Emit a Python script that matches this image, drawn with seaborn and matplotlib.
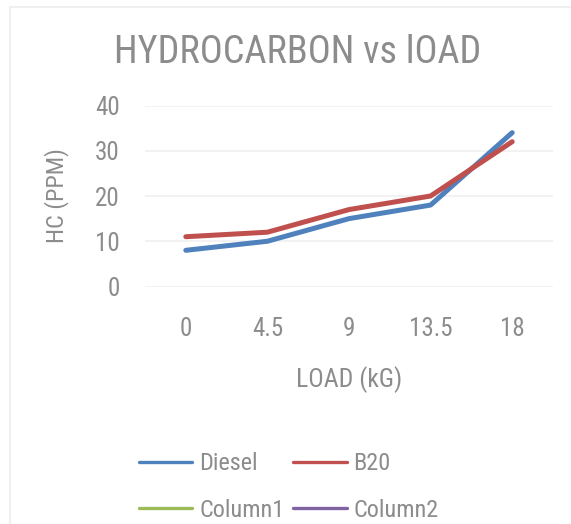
import matplotlib
matplotlib.use("Agg")
import matplotlib.pyplot as plt
from matplotlib import font_manager
from matplotlib.lines import Line2D
from matplotlib.patches import Rectangle
import pandas as pd
import seaborn as sns

# Data
load_labels = ["0", "4.5", "9", "13.5", "18"]
diesel_hc = [8, 10, 15, 18, 34]
b20_hc = [11, 12, 17, 20, 32]
y_ticks = [0, 10, 20, 30, 40]

series_names = ["Diesel", "B20", "Column1", "Column2"]
series_colors = ["#4F81BD", "#C0504D", "#9BBB59", "#8064A2"]
TEXT = "#8C8C8C"

sns.set_theme(style="white")
installed = {f.name for f in font_manager.fontManager.ttflist}
narrow = [n for n in ["Liberation Sans Narrow", "Roboto Condensed", "Arial Narrow",
                      "Open Sans Condensed", "Roboto"] if n in installed]
plt.rcParams["font.family"] = narrow[:1] + ["DejaVu Sans"]

df = pd.DataFrame({
    "LOAD": load_labels * 2,
    "HC": diesel_hc + b20_hc,
    "Fuel": ["Diesel"] * len(load_labels) + ["B20"] * len(load_labels),
})

fig = plt.figure(figsize=(5.71, 5.24), dpi=100)
fig.patch.set_facecolor("white")
# faint chart-area border
fig.patches.append(Rectangle((10 / 571, -0.1), 1.2, 1 - 7 / 524 + 0.1,
                             transform=fig.transFigure, fill=False,
                             edgecolor="#EEEEEE", linewidth=1.2))

ax = fig.add_axes([145 / 571, 1 - 286.5 / 524, 408 / 571, 181 / 524])
sns.lineplot(data=df, x="LOAD", y="HC", hue="Fuel", hue_order=["Diesel", "B20"],
             palette=series_colors[:2], linewidth=3.6, legend=False, ax=ax,
             solid_capstyle="round", sort=False)

ax.set_xlim(-0.5, len(load_labels) - 0.5)
ax.set_ylim(0, 40)
ax.set_yticks(y_ticks)
ax.yaxis.grid(True, color="#F0F0F0", linewidth=1.2)
ax.set_axisbelow(True)
for s in ax.spines.values():
    s.set_visible(False)
ax.tick_params(axis="both", length=0, colors=TEXT, labelsize=18)
ax.tick_params(axis="y", pad=18)
ax.tick_params(axis="x", pad=22)

ax.set_xlabel("LOAD (kG)", color=TEXT, fontsize=18.5, labelpad=18)
ax.set_ylabel("HC (PPM)", color=TEXT, fontsize=17.5, labelpad=19)

fig.text(0.5 + 12 / 571, 1 - 52.5 / 524, "HYDROCARBON vs lOAD", color=TEXT,
         fontsize=27.5, ha="center", va="center")

# legend: Diesel, B20 on the first row; Column1, Column2 on the second
order = [0, 2, 1, 3]
handles = [Line2D([0], [0], color=series_colors[i], linewidth=2.4,
                  solid_capstyle="round") for i in order]
leg = fig.legend(handles, [series_names[i] for i in order], ncol=2,
                 loc="center left", bbox_to_anchor=(139 / 571, 1 - 487 / 524),
                 frameon=False, borderpad=0, borderaxespad=0,
                 fontsize=17.5, handlelength=2.2, handletextpad=0.28,
                 columnspacing=0.35, labelspacing=0.95, labelcolor=TEXT)

fig.savefig("out.png", dpi=100)
